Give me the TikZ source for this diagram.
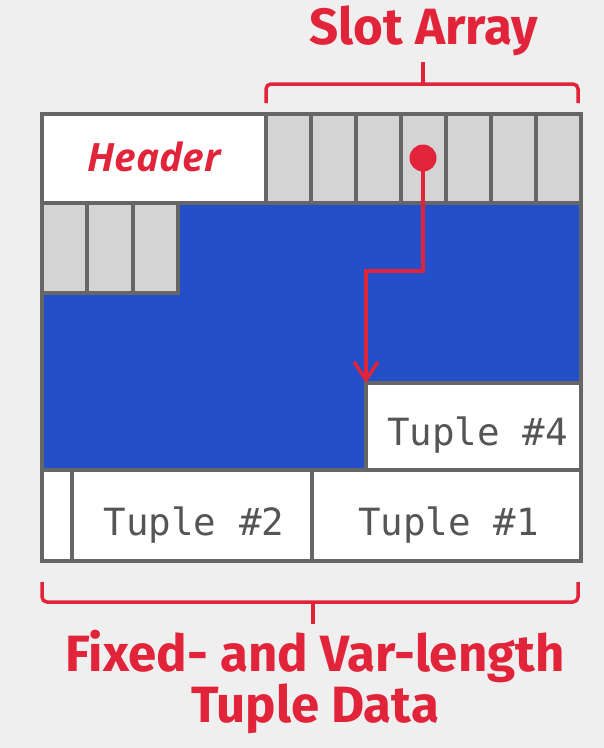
\documentclass[tikz,border=0pt]{standalone}
\usepackage{fontspec}
\setmainfont{Fira Sans}
\newfontfamily\monof{DejaVu Sans Mono}
\newfontfamily\hdrf{Open Sans}
\usetikzlibrary{arrows.meta}
\definecolor{bg}{HTML}{EFEFEF}
\definecolor{brd}{HTML}{666666}
\definecolor{slotg}{HTML}{D4D4D4}
\definecolor{fillblue}{HTML}{2350C8}
\definecolor{cmured}{HTML}{E2243A}
\definecolor{txtgray}{HTML}{555555}
\tikzset{
  cellbox/.style={draw=brd, line width=4pt, anchor=north west, inner sep=0pt, outer sep=0pt},
  slotbox/.style={cellbox, fill=slotg, minimum width=45pt, minimum height=89pt},
  whitebox/.style={cellbox, fill=white},
  tupletext/.style={text=txtgray, anchor=base, font=\monof\fontsize{37.5}{40}\selectfont},
  redtitle/.style={text=cmured, font=\bfseries\fontsize{51}{46}\selectfont, align=center},
  redline/.style={draw=cmured, line width=3.5pt},
}
\begin{document}
\begin{tikzpicture}[x=1pt,y=-1pt]
\useasboundingbox (0,0) rectangle (604,748);
\fill[bg] (0,0) rectangle (604,748);
% blue free space
\fill[fillblue] (42,203) rectangle (581,470);
% header
\node[whitebox, minimum width=224pt, minimum height=89pt] (header) at (42,114) {};
\node[text=cmured, anchor=base, font=\hdrf\bfseries\itshape\fontsize{39}{42}\selectfont] at ([yshift=-13pt]header.center) {Header};
% slot array (top row)
\foreach \i in {0,...,6} {
  \node[slotbox] (s\i) at (266+45*\i,114) {};
}
% slot array (second row)
\foreach \i in {0,1,2} {
  \node[slotbox, minimum width=45.33pt, minimum height=90pt] (r\i) at (42+45.33*\i,203) {};
}
% tuples
\node[whitebox, minimum width=215pt, minimum height=87pt] (t4) at (366,383) {};
\node[tupletext] at ([xshift=4pt,yshift=-18.5pt]t4.center) {Tuple \#4};
\node[whitebox, minimum width=30pt, minimum height=91pt] (t0) at (42,470) {};
\node[whitebox, minimum width=240pt, minimum height=91pt] (t2) at (72,470) {};
\node[tupletext] at ([xshift=2pt,yshift=-19.5pt]t2.center) {Tuple \#2};
\node[whitebox, minimum width=269pt, minimum height=91pt] (t1) at (312,470) {};
\node[tupletext] at ([xshift=2pt,yshift=-19.5pt]t1.center) {Tuple \#1};
% outer page frame
\node[cellbox, minimum width=539pt, minimum height=447pt] (page) at (42,114) {};
% pointer from slot to tuple #4
\node[circle, fill=cmured, minimum size=27pt, inner sep=0pt] (dot) at (423,158) {};
\coordinate (bend) at (423,271);
\draw[redline, -{Straight Barb[length=18pt,width=24pt]}] (dot.center) -- (bend) -| (t4.north west);
% Slot Array brace and label
\coordinate (sbl) at (266,103);
\coordinate (sbr) at (578,103);
\coordinate (sbm) at (423,84);
\coordinate (sbt) at (423,62);
\draw[redline, rounded corners=5pt] (sbl) |- (sbr |- sbm) -- (sbr);
\draw[redline] (sbm) -- (sbt);
\node[redtitle, anchor=base] (slottitle) at (424,44) {Slot Array};
% Tuple data brace and label
\coordinate (dbl) at (42,582);
\coordinate (dbr) at (578,582);
\coordinate (dbm) at (313,602);
\coordinate (dbt) at (313,624);
\draw[redline, rounded corners=5pt] (dbl) |- (dbr |- dbm) -- (dbr);
\draw[redline] (dbm) -- (dbt);
\node[redtitle] (datatitle) at (315,682) {Fixed- and Var-length\\Tuple Data};
\end{tikzpicture}
\end{document}
